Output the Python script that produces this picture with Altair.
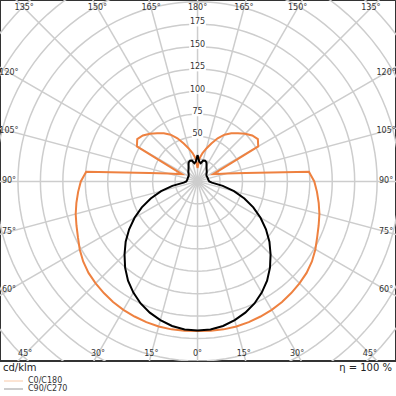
import math
import altair as alt
import pandas as pd

# ---- data (cd/klm) ----
angles = list(range(0, 181, 5))
c0_c180 = [166.5, 167, 167.3, 167.2, 166.8, 166, 165.2, 164, 162.3, 160.5,
           158.5, 155.5, 151.5, 147, 143.5, 140.5, 137, 133.5, 130, 124.5,
           54.5, 33.5, 24.4, 19.3, 78, 82, 79.5, 75, 70, 65.5,
           60, 53, 45, 38, 32, 26, 15]
c90 = [166, 165.5, 163.5, 160, 155.5, 150, 143, 135, 125.5, 115,
       104.5, 93, 81, 68.5, 55.5, 42, 28.5, 16, 13, 12.5,
       12, 12, 11.8, 11.8, 11.8, 12, 13, 14.5, 15.8, 17.5,
       20, 23.5, 24.5, 24, 20.5, 22, 29.5]
c270 = [166, 165.5, 163.5, 160, 155.5, 150, 143, 135, 125.5, 115,
        104.5, 93, 81, 68.5, 55.5, 42, 28.5, 15.5, 12.5, 12,
        11.5, 11.5, 11.5, 11.5, 11.5, 12, 13, 14.5, 15.8, 17.5,
        20, 23.5, 24.5, 24, 20.5, 22, 29.5]

ring_values = list(range(25, 351, 25))
ring_label_values = [50, 75, 100, 125, 150, 175]
spoke_angles = list(range(0, 360, 15))
angle_label_angles = [-45, -30, -15, 0, 15, 30, 45,
                      -60, -75, -90, -105, -120, 60, 75, 90, 105, 120,
                      -135, -150, -165, 180, 165, 150, 135]
series_names = ["C0/C180", "C90/C270"]
series_colors = ["#ee8140", "#000000"]
legend_colors = ["#f8c9a8", "#9a9a9a"]
unit_text = "cd/klm"
eta_text = "η = 100 %"

# ---- tables ----
rows = []
seq = 0
for a, v in zip(reversed(angles), reversed(c0_c180)):
    rows.append({"series": "C0/C180", "seq": seq, "angle": -a, "value": v}); seq += 1
for a, v in zip(angles[1:], c0_c180[1:]):
    rows.append({"series": "C0/C180", "seq": seq, "angle": a, "value": v}); seq += 1
seq = 0
for a, v in zip(reversed(angles), reversed(c270)):
    rows.append({"series": "C90/C270", "seq": seq, "angle": -a, "value": v}); seq += 1
for a, v in zip(angles[1:], c90[1:]):
    rows.append({"series": "C90/C270", "seq": seq, "angle": a, "value": v}); seq += 1
curves = pd.DataFrame(rows)

ring_rows = []
for r in ring_values:
    for k, a in enumerate(range(0, 361, 3)):
        ring_rows.append({"ring": r, "seq": k, "angle": a, "value": r})
rings = pd.DataFrame(ring_rows)

spokes = pd.DataFrame({"angle": spoke_angles, "value": [400] * len(spoke_angles)})
ring_labels = pd.DataFrame({"value": ring_label_values,
                            "label": [str(v) for v in ring_label_values]})
ring_labels["hw"] = ring_labels["label"].str.len() * 2.9 + 0.6   # half width (units)

HX, YT, YB = 210.0, 193.0, 192.0
lab_rows = []
for a in angle_label_angles:
    th = math.radians(a)
    s, c = math.sin(th), math.cos(th)
    if abs(a) <= 45:
        x, y = YB * s / c, -YB
    elif abs(a) >= 135:
        x, y = YT * s / (-c), YT
    else:
        x, y = math.copysign(HX, s), -HX * c / abs(s)
    lab_rows.append({"x": x, "y": y, "label": f"{abs(a)}°"})
angle_labels = pd.DataFrame(lab_rows)

xs = alt.Scale(domain=[-220, 221], nice=False, zero=False)
ys = alt.Scale(domain=[-200, 202], nice=False, zero=False)
X = lambda f: alt.X(f, type="quantitative", scale=xs, axis=None)
Y = lambda f: alt.Y(f, type="quantitative", scale=ys, axis=None)

polar_x = "datum.value*sin(datum.angle*PI/180)"
polar_y = "-datum.value*cos(datum.angle*PI/180)"

grid_color = "#cdcdcd"

ring_layer = alt.Chart(rings).transform_calculate(px=polar_x, py=polar_y).mark_line(
    color=grid_color, strokeWidth=1.5, clip=True
).encode(x=X("px"), y=Y("py"), detail="ring:N", order="seq:Q")

spoke_layer = alt.Chart(spokes).transform_calculate(
    px=polar_x, py=polar_y, ox="0", oy="0"
).mark_rule(color=grid_color, strokeWidth=1.5, clip=True).encode(
    x=X("ox"), y=Y("oy"), x2="px:Q", y2="py:Q")

label_bg = alt.Chart(ring_labels).transform_calculate(
    x1="-datum.hw", x2="datum.hw", y1="datum.value - 2.5", y2="datum.value + 7"
).mark_rect(color="white").encode(x=X("x1"), x2="x2:Q", y=Y("y1"), y2="y2:Q")

ring_text = alt.Chart(ring_labels).transform_calculate(ox="0").mark_text(
    fontSize=8, font="DejaVu Sans", color="#333333", baseline="middle", dy=-2
).encode(x=X("ox"), y=Y("value"), text="label:N")

angle_text = alt.Chart(angle_labels).mark_text(
    fontSize=8, font="DejaVu Sans", color="#333333", baseline="middle", clip=True
).encode(x=X("x"), y=Y("y"), text="label:N")

curve_layer = alt.Chart(curves).transform_calculate(px=polar_x, py=polar_y).mark_line(
    strokeWidth=2, clip=True
).encode(
    x=X("px"), y=Y("py"),
    color=alt.Color("series:N", scale=alt.Scale(domain=series_names, range=series_colors), legend=None),
    order="seq:Q", detail="series:N")

foot = pd.DataFrame({"t": [0]})
unit_layer = alt.Chart(foot).mark_text(
    text=unit_text, fontSize=10, font="DejaVu Sans", color="#222222", align="left", baseline="middle"
).encode(x=alt.value(3), y=alt.value(368))
eta_layer = alt.Chart(foot).mark_text(
    text=eta_text, fontSize=10, font="DejaVu Sans", color="#222222", align="right", baseline="middle"
).encode(x=alt.value(392), y=alt.value(368))

leg = pd.DataFrame({"series": series_names, "ypix": [381, 389]})
leg_lines = alt.Chart(leg).mark_rule(strokeWidth=1).encode(
    x=alt.value(4), x2=alt.value(23), y=alt.Y("ypix:Q", scale=None),
    color=alt.Color("series:N", scale=alt.Scale(domain=series_names, range=legend_colors), legend=None))
leg_text = alt.Chart(leg).mark_text(
    fontSize=8, font="DejaVu Sans", color="#333333", align="left", baseline="middle"
).encode(x=alt.value(28), y=alt.Y("ypix:Q", scale=None), text="series:N")

chart = alt.layer(
    ring_layer, spoke_layer, label_bg, ring_text, angle_text, curve_layer,
    unit_layer, eta_layer, leg_lines, leg_text
).resolve_scale(color="independent").properties(
    width=396, height=361, padding=0
).configure_view(stroke="#333333", strokeWidth=2)

chart.save("out.html", embed_options={"renderer": "svg", "actions": False})
